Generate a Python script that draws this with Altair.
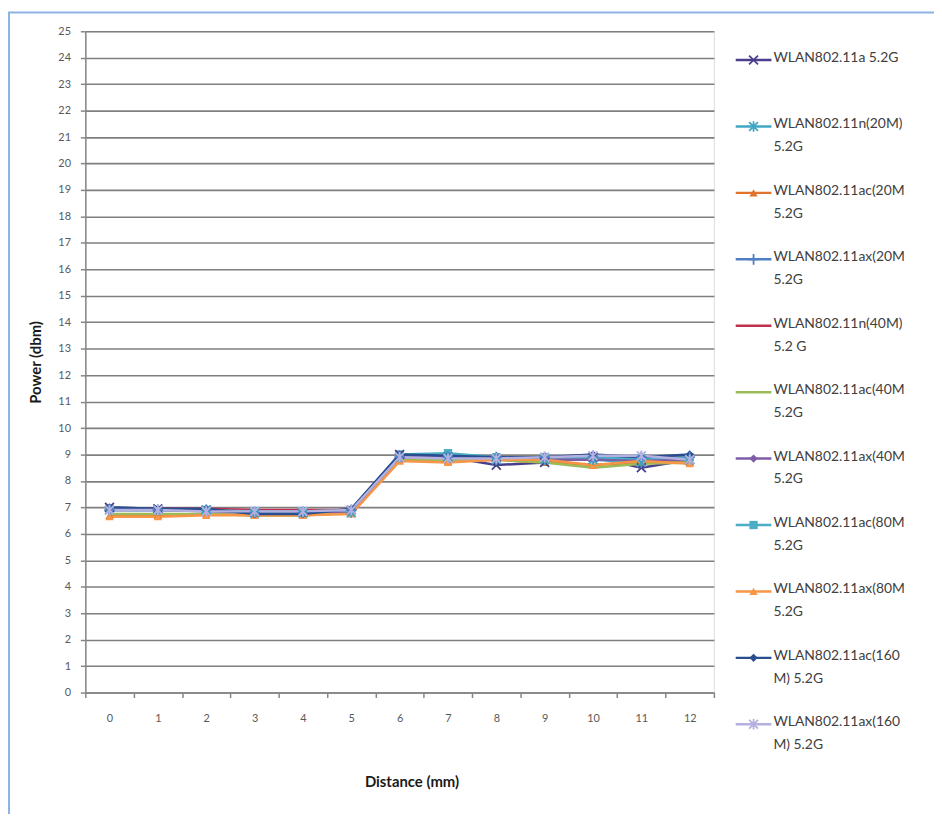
import altair as alt
import pandas as pd

# ---------------- data ----------------
distance = list(range(13))

series_labels = [
    "WLAN802.11a 5.2G",
    "WLAN802.11n(20M)\n5.2G",
    "WLAN802.11ac(20M\n5.2G",
    "WLAN802.11ax(20M\n5.2G",
    "WLAN802.11n(40M)\n5.2 G",
    "WLAN802.11ac(40M\n5.2G",
    "WLAN802.11ax(40M\n5.2G",
    "WLAN802.11ac(80M\n5.2G",
    "WLAN802.11ax(80M\n5.2G",
    "WLAN802.11ac(160\nM) 5.2G",
    "WLAN802.11ax(160\nM) 5.2G",
]

s_11a = [7.0, 6.95, 6.9, 6.8, 6.8, 6.9, 9.0, 8.9, 8.6, 8.7, 8.9, 8.5, 8.8]
s_11n20 = [6.9, 6.9, 6.9, 6.8, 6.8, 6.8, 8.9, 8.9, 8.8, 8.8, 8.8, 8.7, 8.8]
s_11ac20 = [6.7, 6.7, 6.75, 6.7, 6.7, 6.8, 8.8, 8.75, 8.8, 8.7, 8.6, 8.7, 8.7]
s_11ax20 = [6.9, 6.9, 6.9, 6.8, 6.8, 6.9, 8.9, 8.9, 8.9, 8.9, 8.9, 8.9, 8.9]
s_11n40 = [6.95, 6.95, 6.95, 6.9, 6.9, 6.9, 8.9, 8.95, 8.9, 8.9, 8.9, 8.9, 8.9]
s_11ac40 = [6.75, 6.75, 6.75, 6.7, 6.7, 6.8, 8.8, 8.8, 8.8, 8.7, 8.5, 8.65, 8.7]
s_11ax40 = [6.9, 6.9, 6.85, 6.8, 6.8, 6.85, 8.9, 8.9, 8.85, 8.8, 8.8, 8.8, 8.8]
s_11ac80 = [6.95, 6.9, 6.9, 6.85, 6.85, 6.9, 9.0, 9.05, 8.9, 8.9, 8.9, 8.85, 8.9]
s_11ax80 = [6.65, 6.65, 6.7, 6.7, 6.7, 6.75, 8.75, 8.7, 8.8, 8.8, 8.6, 8.75, 8.65]
s_11ac160 = [7.0, 6.95, 6.95, 6.75, 6.75, 6.95, 9.0, 8.95, 8.9, 8.9, 9.0, 8.9, 9.0]
s_11ax160 = [6.9, 6.9, 6.85, 6.85, 6.85, 6.9, 8.9, 8.85, 8.85, 8.9, 8.95, 8.95, 8.8]

all_series = [s_11a, s_11n20, s_11ac20, s_11ax20, s_11n40, s_11ac40,
              s_11ax40, s_11ac80, s_11ax80, s_11ac160, s_11ax160]

colors = ["#4A3F8C", "#3FA7C4", "#E0742C", "#4F7FC4", "#C0304D", "#9BBB59",
          "#7E5CA8", "#4BACC6", "#F79646", "#2A4D8F", "#B4B0E0"]

X_SHAPE = "M-1,-1L1,1M-1,1L1,-1"
STAR_SHAPE = "M-1,-1L1,1M-1,1L1,-1M0,-1.2L0,1.2"
PLUS_SHAPE = "M-1.2,0L1.2,0M0,-1.2L0,1.2"
shapes = [X_SHAPE, STAR_SHAPE, "triangle-up", PLUS_SHAPE, "circle", "circle",
          "diamond", "square", "triangle-up", "diamond", STAR_SHAPE]
marker_kind = ["stroke", "stroke", "fill", "stroke", "none", "none",
               "fill", "fill", "fill", "fill", "stroke"]

y_ticks = list(range(26))

# ---------------- tables ----------------
rows = []
for i, (lab, vals) in enumerate(zip(series_labels, all_series)):
    for d, v in zip(distance, vals):
        rows.append({"series": lab, "order": i, "d": d, "power": v,
                     "kind": marker_kind[i]})
df = pd.DataFrame(rows)

leg = pd.DataFrame({"series": series_labels, "order": list(range(len(series_labels))),
                    "kind": marker_kind})

FONT = "Lato"
W, H = 634, 667

color_enc = alt.Color("series:N", scale=alt.Scale(domain=series_labels, range=colors), legend=None)
shape_enc = alt.Shape("series:N", scale=alt.Scale(domain=series_labels, range=shapes), legend=None)

x_enc = alt.X("d:O", scale=alt.Scale(type="band", paddingInner=0, paddingOuter=0),
              axis=alt.Axis(title="Distance (mm)", tickBand="extent", tickSize=5,
                            labelPadding=15, labelAngle=0, labelFontSize=11,
                            labelColor="#595959", labelFont=FONT,
                            domainColor="#868686", tickColor="#868686",
                            domainWidth=1.5, tickWidth=1.5, grid=False,
                            titleFont=FONT, titleFontSize=15, titleFontWeight="bold",
                            titleColor="#1a1a1a", titlePadding=52, titleX=329))
y_enc = alt.Y("power:Q", scale=alt.Scale(domain=[0, 25], nice=False),
              axis=alt.Axis(title="Power (dbm)", values=y_ticks, tickSize=5,
                            labelPadding=10, labelFontSize=11, labelColor="#595959",
                            labelFont=FONT, domainColor="#868686", tickColor="#868686",
                            domainWidth=1.5, tickWidth=1.5,
                            grid=True, gridColor="#7f7f7f", gridWidth=1.6,
                            titleFont=FONT, titleFontSize=15, titleFontWeight="bold",
                            titleColor="#1a1a1a", titlePadding=14))

base = alt.Chart(df)

lines = base.mark_line(strokeWidth=2.5).encode(
    x=x_enc, y=y_enc, color=color_enc, detail="series:N",
    order=alt.Order("d:Q"))

pts_fill = base.transform_filter(alt.datum.kind == "fill").mark_point(
    filled=True, size=70, opacity=1).encode(
    x=x_enc, y=y_enc, color=color_enc, shape=shape_enc)

pts_stroke = base.transform_filter(alt.datum.kind == "stroke").mark_point(
    filled=False, size=80, strokeWidth=1.8, opacity=1).encode(
    x=x_enc, y=y_enc, color=color_enc, shape=shape_enc)

main = alt.layer(lines, pts_fill, pts_stroke)

# ---------------- legend ----------------
leg_y = alt.Y("series:N", scale=alt.Scale(type="point", domain=series_labels,
                                          range=[29, 699], padding=0), axis=None)
lbase = alt.Chart(leg)
leg_line = lbase.mark_rule(strokeWidth=2.5).encode(
    x=alt.value(656), x2=alt.value(692), y=leg_y, color=color_enc)
leg_fill = lbase.transform_filter(alt.datum.kind == "fill").mark_point(
    filled=True, size=70, opacity=1).encode(
    x=alt.value(674), y=leg_y, color=color_enc, shape=shape_enc)
leg_stroke = lbase.transform_filter(alt.datum.kind == "stroke").mark_point(
    filled=False, size=80, strokeWidth=1.8, opacity=1).encode(
    x=alt.value(674), y=leg_y, color=color_enc, shape=shape_enc)
leg_text = lbase.mark_text(align="left", baseline="top", dy=-9, lineBreak="\n",
                           lineHeight=23, font=FONT, fontSize=14,
                           color="#404040").encode(
    x=alt.value(694), y=leg_y, text="series:N")

border = alt.Chart(pd.DataFrame({"b": [0]})).mark_rect(
    fill=None, stroke="#8DB3E2", strokeWidth=2).encode(
    x=alt.value(-77), x2=alt.value(1000), y=alt.value(-19), y2=alt.value(1000))

legend = alt.layer(leg_line, leg_fill, leg_stroke, leg_text)

chart = alt.layer(border, main, legend).resolve_scale(y="independent").properties(
    width=W, height=H,
    autosize=alt.AutoSizeParams(type="none"),
    padding={"left": 78, "top": 20, "right": 222, "bottom": 119},
).configure_view(stroke=None).configure(background="white")

chart.save("out.html", embed_options={"renderer": "svg", "actions": False})
